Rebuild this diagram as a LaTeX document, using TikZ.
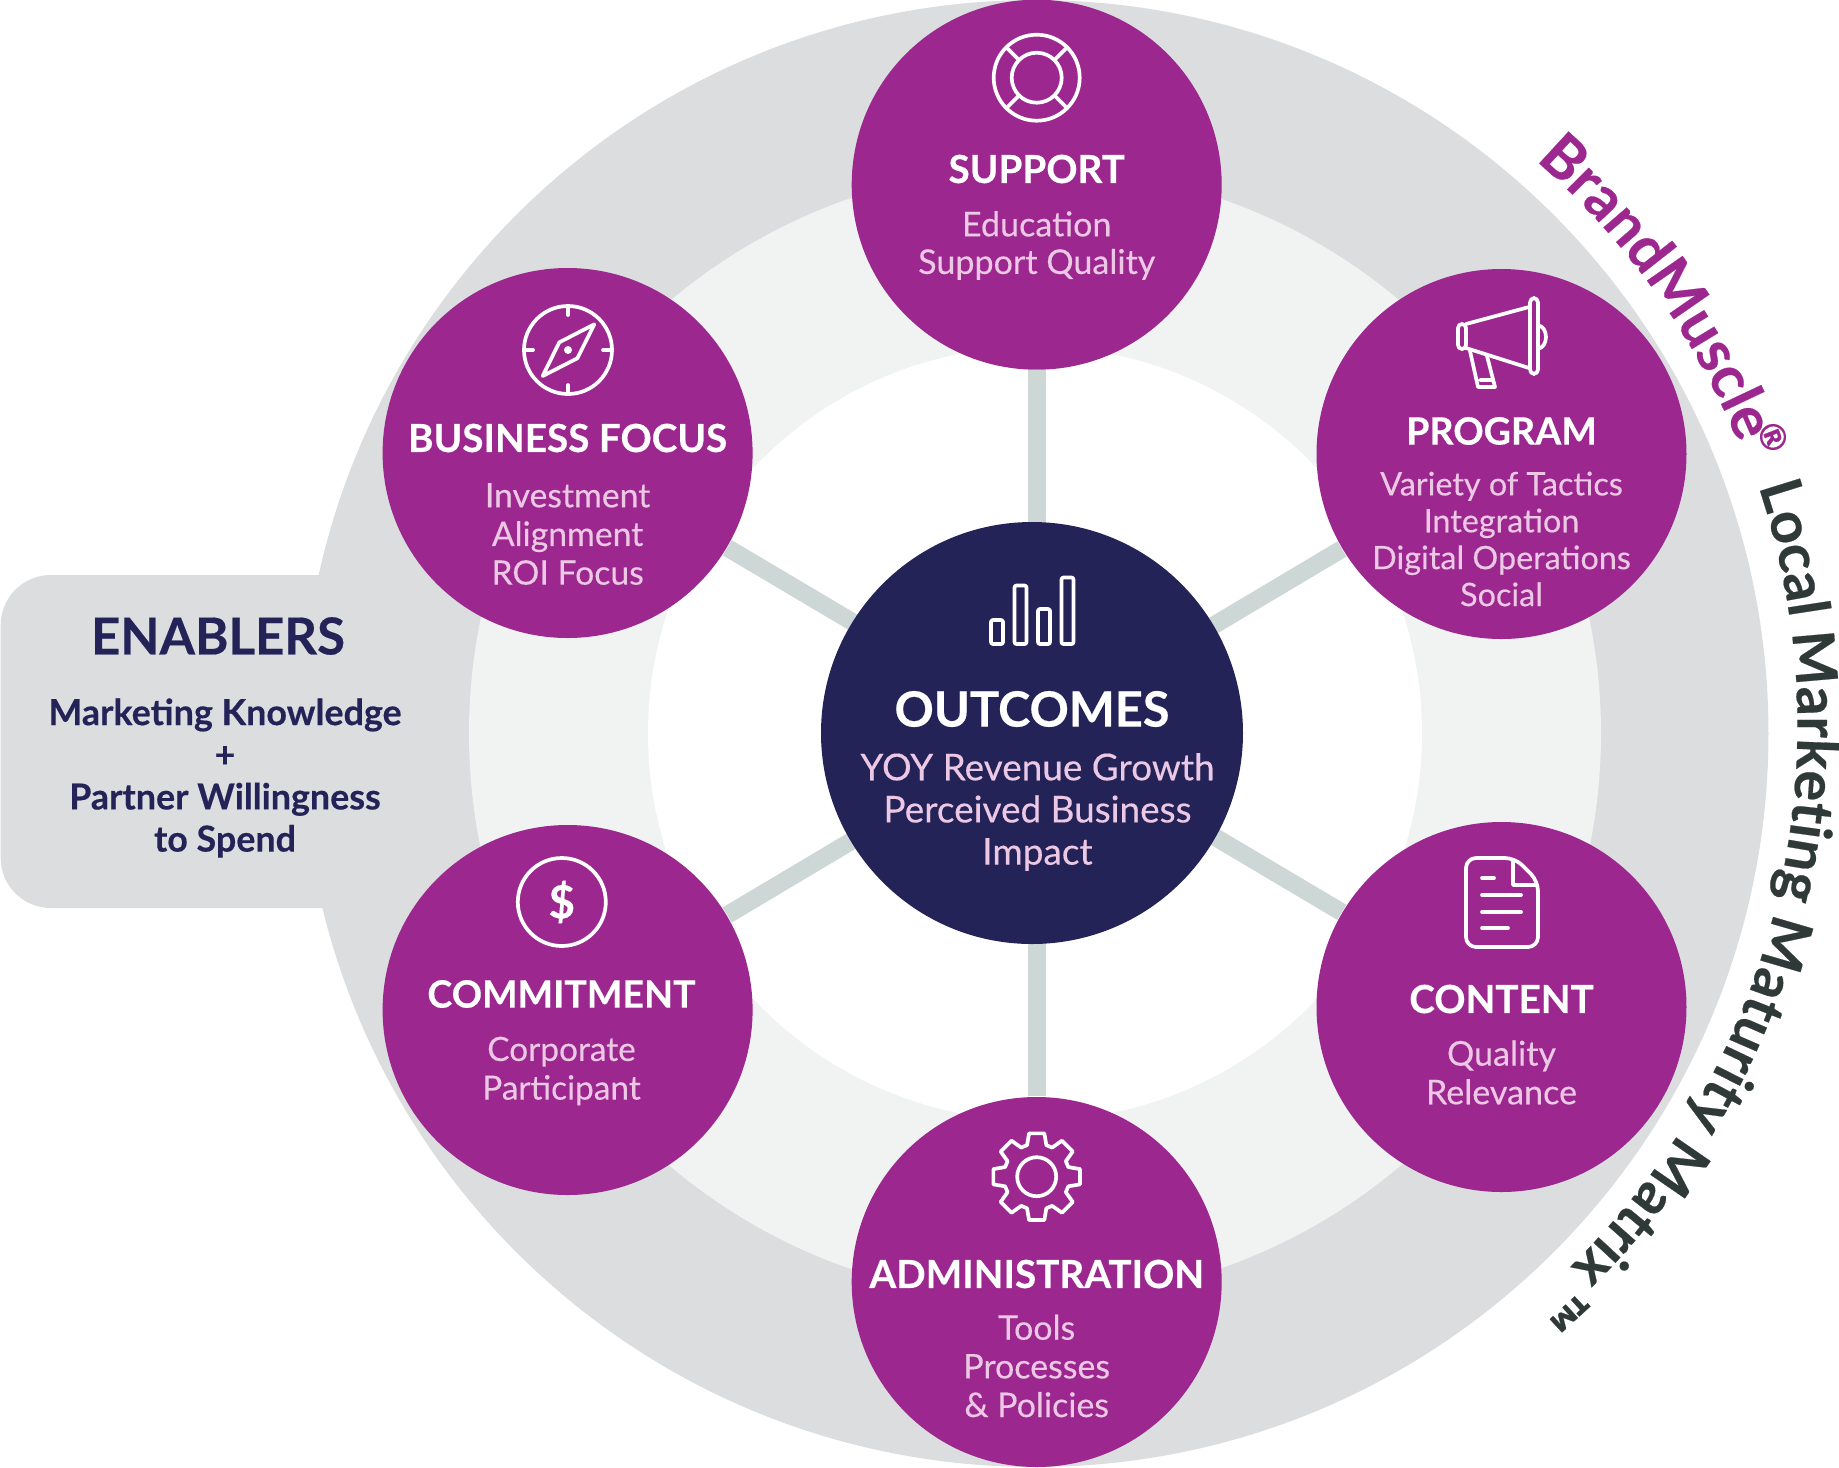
\documentclass[tikz,border=0pt]{standalone}
\usepackage{fontspec}
\setmainfont{Lato}[BoldFeatures={FakeBold=0.35}]
\newfontfamily\subfamily{Lato}[FakeBold=0.3]
\usetikzlibrary{backgrounds,decorations.text}
\definecolor{petalpurple}{HTML}{9B278F}
\definecolor{hubnavy}{HTML}{232358}
\definecolor{ringgrey}{HTML}{DCDDDF}
\definecolor{ringlight}{HTML}{F1F2F2}
\definecolor{spokegrey}{HTML}{CDD7D6}
\definecolor{petalpink}{HTML}{ECC8E4}
\definecolor{matrixdark}{HTML}{2F3A38}

\begin{document}
\begin{tikzpicture}[
  x=0.1mm,y=-0.1mm,
  every node/.style={inner sep=0pt},
  disc/.style={circle,minimum size=#1,draw=none},
  petal/.style={disc=37mm,fill=petalpurple},
  headtext/.style={text=white,font=\bfseries\fontsize{#1}{13}\selectfont},
  headtext/.default=11,
  subtext/.style={text=petalpink,align=center,font=\subfamily\fontsize{#1}{11}\selectfont},
  subtext/.default=9.6,
  enablertext/.style={text=hubnavy,align=center,font=\bfseries\fontsize{10.2}{12}\selectfont},
  icon/.style={draw=white,line width=0.37mm,line join=round,line cap=round},
  spoke/.style={draw=spokegrey,line width=1.76mm},
  curved/.style={decorate,decoration={text along path,text align={fit to path},text={#1}}}
]
  \useasboundingbox (0,0) rectangle (1839,1467);

  \node[disc=42.2mm,fill=hubnavy] (outcomes) at (1032,733) {};
  \node[petal] (support) at (1036.7,184.7) {};
  \node[petal] (program) at (1501.5,454) {};
  \node[petal] (content) at (1501.5,1007) {};
  \node[petal] (administration) at (1036.7,1282) {};
  \node[petal] (commitment) at (567.6,1010) {};
  \node[petal] (businessfocus) at (567.6,453) {};

  \begin{pgfonlayer}{background}
    \node[disc=146.7mm,fill=ringgrey] (outerring) at (1035,733.5) {};
    \node[rectangle,fill=ringgrey,rounded corners=5mm,minimum width=50mm,minimum height=33.3mm,anchor=west] (enablerbox) at (0,741.5) {};
    \node[disc=113.2mm,fill=ringlight] (midring) at (1035,733.5) {};
    \node[disc=77.4mm,fill=white] (innerring) at (1035,733.5) {};
    \draw[spoke] (support) -- (administration);
    \draw[spoke] (businessfocus) -- (content);
    \draw[spoke] (commitment) -- (program);
  \end{pgfonlayer}

  \node[text=white,font=\bfseries\fontsize{13.85}{16}\selectfont] (outcomeshead) at (1032,709) {OUTCOMES};
  \node[subtext,font=\subfamily\fontsize{10.5}{12}\selectfont] (outcomesbody) at (1037.5,812) {YOY Revenue Growth\\Perceived Business\\Impact};

  \node[headtext] (supporthead) at (1036.7,169) {SUPPORT};
  \node[subtext,font=\subfamily\fontsize{9.7}{10.7}\selectfont] (supportbody) at (1036.7,245.5) {Education\\Support Quality};
  \node[headtext=10.7] (programhead) at (1501.5,431) {PROGRAM};
  \node[subtext,font=\subfamily\fontsize{9.2}{10.5}\selectfont] (programbody) at (1501.5,539) {Variety of Tactics\\Integration\\Digital Operations\\Social};
  \node[headtext] (contenthead) at (1501.5,999) {CONTENT};
  \node[subtext=9.7] (contentbody) at (1501.5,1072.5) {Quality\\Relevance};
  \node[headtext] (administrationhead) at (1036.7,1274) {ADMINISTRATION};
  \node[subtext=9.65] (administrationbody) at (1036.7,1366) {Tools\\Processes\\\& Policies};
  \node[headtext=10.7] (commitmenthead) at (561.5,994) {COMMITMENT};
  \node[subtext=9.5] (commitmentbody) at (561.5,1071) {Corporate\\Participant};
  \node[headtext] (businessfocushead) at (567.6,438) {BUSINESS FOCUS};
  \node[subtext] (businessfocusbody) at (567.6,534) {Investment\\Alignment\\ROI Focus};

  \node[text=hubnavy,font=\bfseries\fontsize{14.5}{17}\selectfont] (enablershead) at (218,636) {ENABLERS};
  \node[enablertext] (enablersbody) at (225,778) {Marketing Knowledge\\+\\Partner Willingness\\to Spend};

  \draw[icon] (1036.7,77.7) circle (43) (1036.7,77.7) circle (25);
  \foreach \a in {45,135,225,315}
    \draw[icon,shift={(1036.7,77.7)}] (\a:25) -- (\a:43);

  \draw[icon,rounded corners=0.4mm] (1458,324) rectangle (1466,349);
  \draw[icon] (1466,324) -- (1529,307) (1466,348) -- (1529,368);
  \draw[icon,rounded corners=0.45mm] (1530,298) rectangle (1538,374);
  \draw[icon] (1538,325.5) arc[start angle=-90,end angle=90,x radius=8,y radius=11.5];
  \draw[icon] (1470,351) -- (1478,387) -- (1495,387) -- (1487,356) (1480,380) -- (1493,380);

  \draw[icon] (568,350) circle (44);
  \foreach \a in {0,90,180,270}
    \draw[icon,shift={(568,350)}] (\a:44) -- (\a:35);
  \draw[icon] (594.3,324.3) -- (559.3,342.3) -- (542.7,376) -- (577.3,358.3) -- cycle;
  \fill[white] (568,350) circle (4);

  \draw[icon] (561.8,902) circle (44);
  \node[text=white,font=\bfseries\fontsize{13}{15}\selectfont] (dollarsign) at (561.8,902) {\$};

  \draw[icon,rounded corners=1mm] (1466,858) -- (1515,858) -- (1538,881) -- (1538,947) -- (1466,947) -- cycle;
  \draw[icon] (1513,860) -- (1513,885) -- (1537,885);
  \draw[icon] (1482,878) -- (1494,878) (1482,895) -- (1521,895) (1482,912) -- (1521,912) (1482,928) -- (1508,928);

  \draw[icon,shift={(1036.7,1176.7)}] (-17:33) foreach \a in {0,45,...,315} {-- (\a-17:33) -- (\a-10:44) -- (\a+10:44) -- (\a+17:33)} -- cycle;
  \draw[icon] (1036.7,1176.7) circle (19.5);

  \draw[icon,rounded corners=0.2mm] (991,620) rectangle (1003,644);
  \draw[icon,rounded corners=0.2mm] (1014.5,585.5) rectangle (1026.5,644);
  \draw[icon,rounded corners=0.2mm] (1038,609) rectangle (1050,644);
  \draw[icon,rounded corners=0.2mm] (1061.5,577.5) rectangle (1073.5,644);

  \begin{scope}[shift={(1036,733)},x=0.1mm,y=0.1mm]
    \path[curved={|\color{petalpurple}\bfseries\fontsize{17}{20}\selectfont|BrandMuscle{ }}] (48.9:76mm) arc[start angle=48.9,end angle=23.2,radius=76mm];
  \end{scope}
  \begin{scope}[shift={(1039.4,725.8)},x=0.1mm,y=0.1mm]
    \path[curved={|\color{matrixdark}\bfseries\fontsize{16.4}{20}\selectfont|Local Marketing Maturity Matrix{ }}] (18.4:75.8mm) arc[start angle=18.4,end angle=-46.6,radius=75.8mm];
  \end{scope}
  \node[text=petalpurple,rotate=-68.2,font=\bfseries\fontsize{10}{12}\selectfont] (registeredmark) at (1773,437) {®};
  \node[text=matrixdark,rotate=-137.5,font=\bfseries\fontsize{17}{19}\selectfont] (trademark) at (1561,1304) {™};
\end{tikzpicture}
\end{document}
